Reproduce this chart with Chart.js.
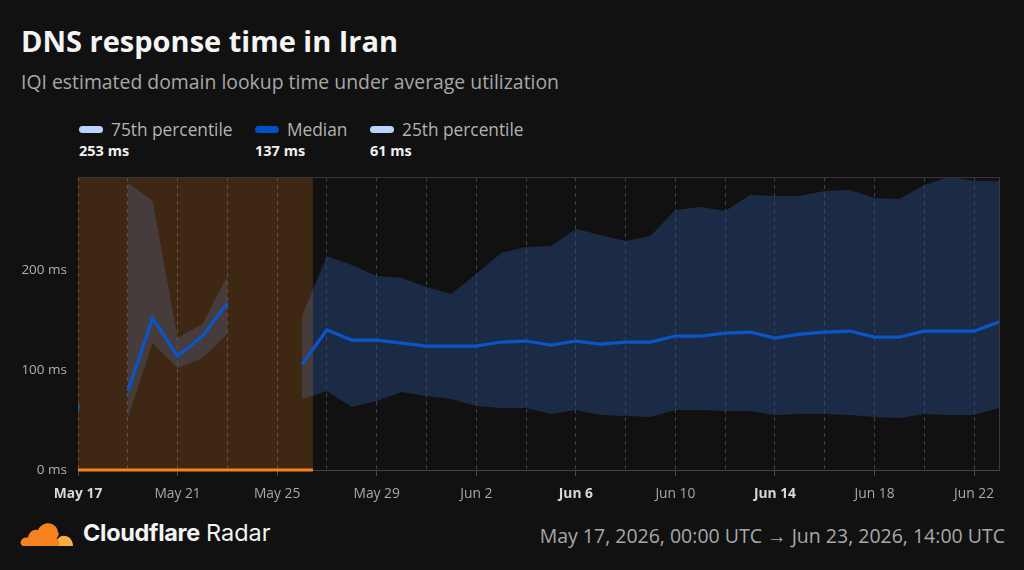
<!DOCTYPE html>
<html>
<head>
<meta charset="utf-8">
<script src="https://cdn.jsdelivr.net/npm/chart.js@4"></script>
<style>
  html, body { margin: 0; padding: 0; }
  body { width: 1024px; height: 570px; background: #111111; position: relative; overflow: hidden; font-family: "Open Sans", "Noto Sans", sans-serif; }
  .title { position: absolute; left: 21px; top: 21px; font-size: 29px; font-weight: 700; color: #f4f4f4; }
  .subtitle { position: absolute; left: 21px; top: 68px; font-size: 19.4px; color: #a8a8a8; }
  .legend-item { position: absolute; top: 118px; }
  .legend-item .row { display: flex; align-items: center; font-size: 17.3px; color: #b4b4b4; }
  .legend-item .pill { width: 24px; height: 7px; border-radius: 4px; margin-right: 8px; }
  .legend-item .val { font-size: 14.5px; font-weight: 700; color: #f0f0f0; margin-top: 0px; }
  #wrap { position: absolute; left: 0; top: 158px; width: 1024px; height: 347px; }
  .brand { position: absolute; left: 20px; top: 518px; display: flex; align-items: center; font-family: Inter, sans-serif; font-size: 23.5px; color: #f4f4f4; }
  .brand b { font-weight: 700; margin-right: 6px; letter-spacing: -0.3px; }
  .range { position: absolute; right: 19px; top: 522px; font-size: 19.5px; color: #a8a8a8; }
</style>
</head>
<body>
<div class="title">DNS response time in Iran</div>
<div class="subtitle">IQI estimated domain lookup time under average utilization</div>

<div class="legend-item" style="left:79px">
  <div class="row"><span class="pill" style="background:#b9d5ff"></span>75th percentile</div>
  <div class="val">253 ms</div>
</div>
<div class="legend-item" style="left:255px">
  <div class="row"><span class="pill" style="background:#0051c3"></span>Median</div>
  <div class="val">137 ms</div>
</div>
<div class="legend-item" style="left:370px">
  <div class="row"><span class="pill" style="background:#b9d5ff"></span>25th percentile</div>
  <div class="val">61 ms</div>
</div>

<div id="wrap"><canvas id="chart"></canvas></div>

<div class="brand">
  <svg width="54" height="28" viewBox="0 0 54 28" style="margin-right:9px">
    <path d="M4 27 C1 27 0 24 1 22 C2 19 5 18 8 18.5 C9 13 13 10 18 11 C21 4 30 2 35 7 C37 9 38 11 38 14 L39 14 C38 19 35 23 30 24 L8 24 Z" fill="#f6821f"/>
    <path d="M36 27 L36 24 C37 19 41 16 45 17 C49 17 53 21 53 27 Z" fill="#fbad41"/>
    <path d="M2 27 L39 27 C40 23 39 21 37 20 L30 20 C26 20 26 24 24 24 L4 24 Z" fill="#f6821f"/>
  </svg>
  <b>Cloudflare</b>Radar
</div>
<div class="range">May 17, 2026, 00:00 UTC → Jun 23, 2026, 14:00 UTC</div>

<script>
// DATA (one point per day, day 0 = May 17)
const days = [0,1,2,3,4,5,6,7,8,9,10,11,12,13,14,15,16,17,18,19,20,21,22,23,24,25,26,27,28,29,30,31,32,33,34,35,36,37];

const median = [63, null, 79, 152, 114, 134, 167, null, null, 106, 140, 130, 130, 127, 124, 124, 124, 128, 129, 125,
  129, 126, 128, 128, 134, 134, 137, 138, 132, 136, 138, 139, 133, 133, 139, 139, 139, 148];

const p75 = [null, null, 287, 269, 132, 146, 194, null, null, 154, 214, 205, 194, 192, 183, 176, 196, 217, 223, 224,
  241, 235, 229, 234, 260, 263, 259, 275, 274, 274, 279, 280, 272, 271, 285, 293, 289, 289];

const p25 = [null, null, 52, 127, 102, 112, 136, null, null, 71, 79, 63, 69, 78, 74, 71, 64, 62, 62, 56,
  60, 55, 54, 53, 60, 60, 59, 59, 55, 56, 56, 55, 53, 52, 56, 55, 55, 62];

// flagged period (days), shaded orange
const outageRange = [0, 9.44];

// axis
const tickLabels = ["May 17", "May 21", "May 25", "May 29", "Jun 2", "Jun 6", "Jun 10", "Jun 14", "Jun 18", "Jun 22"];
const boldTicks = ["May 17", "Jun 6", "Jun 14"];
const yTicks = [0, 100, 200];
const yMax = 293;
const xMax = 37;

// HELPERS
const pts = arr => days.map((d, i) => ({ x: d, y: arr[i] }));
const tickLabel = v => (v % 4 === 0 ? tickLabels[v / 4] || "" : "");
const isBold = ctx => !!(ctx.tick && boldTicks.includes(tickLabel(ctx.tick.value)));
const isolated = ctx => {
  const i = ctx.dataIndex;
  return median[i] != null && median[i - 1] == null && median[i + 1] == null;
};

// top + right frame of the plot
const frame = {
  id: "frame",
  afterDraw(chart) {
    const { ctx, chartArea: a } = chart;
    ctx.save();
    ctx.strokeStyle = "#3a3a3a";
    ctx.lineWidth = 1;
    ctx.beginPath();
    ctx.moveTo(a.left, a.top + 0.5);
    ctx.lineTo(a.right + 0.5, a.top + 0.5);
    ctx.lineTo(a.right + 0.5, a.bottom);
    ctx.stroke();
    ctx.restore();
  }
};

new Chart(document.getElementById("chart"), {
  type: "line",
  data: {
    datasets: [
      {
        label: "Median",
        data: pts(median),
        borderColor: "#0a55c8",
        borderWidth: 3.2,
        pointRadius: ctx => (isolated(ctx) ? 2.2 : 0),
        pointBackgroundColor: "#0a55c8",
        pointBorderWidth: 0,
        spanGaps: false,
        fill: false
      },
      {
        label: "outage",
        data: outageRange.map(d => ({ x: d, y: yMax })),
        borderWidth: 0,
        pointRadius: 0,
        fill: "start",
        backgroundColor: "rgba(246,130,31,0.2)"
      },
      {
        label: "outage-line",
        data: outageRange.map(d => ({ x: d, y: 0 })),
        borderColor: "#f6821f",
        borderWidth: 3,
        pointRadius: 0,
        clip: false,
        fill: false
      },
      {
        label: "75th percentile",
        data: pts(p75),
        borderWidth: 0,
        pointRadius: 0,
        spanGaps: false,
        fill: "+1",
        backgroundColor: "rgba(40,70,122,0.5)"
      },
      {
        label: "25th percentile",
        data: pts(p25),
        borderWidth: 0,
        pointRadius: 0,
        spanGaps: false,
        fill: false
      }
    ]
  },
  options: {
    responsive: true,
    maintainAspectRatio: false,
    animation: false,
    layout: { padding: { top: 4, right: 25, left: 0, bottom: 0 } },
    plugins: { legend: { display: false }, tooltip: { enabled: false } },
    elements: { line: { tension: 0 } },
    scales: {
      x: {
        type: "linear",
        min: 0,
        max: xMax,
        z: 1,
        afterFit: s => { s.height = 35; },
        border: { display: true, color: "#444", width: 1, dash: [4, 4] },
        grid: {
          color: "rgba(255,255,255,0.22)",
          lineWidth: 1,
          tickLength: 6,
          tickColor: ctx => (ctx.tick && ctx.tick.value % 4 === 0 ? "#4a4a4a" : "rgba(0,0,0,0)"),
          tickBorderDash: []
        },
        ticks: {
          stepSize: 2,
          includeBounds: false,
          autoSkip: false,
          maxRotation: 0,
          padding: 10,
          callback: v => tickLabel(v),
          color: ctx => (isBold(ctx) ? "#d8d8d8" : "#a8a8a8"),
          font: ctx => ({
            family: "'Open Sans', 'Noto Sans', sans-serif",
            size: 13.8,
            weight: isBold(ctx) ? "700" : "400"
          })
        }
      },
      y: {
        min: 0,
        max: yMax,
        afterFit: s => { s.width = 78; },
        border: { display: false },
        grid: { display: false, drawTicks: false },
        afterBuildTicks: s => { s.ticks = yTicks.map(v => ({ value: v })); },
        ticks: {
          padding: 11,
          color: "#b0b0b0",
          font: { family: "'Open Sans', 'Noto Sans', sans-serif", size: 13.5 },
          callback: v => v + " ms"
        }
      }
    }
  },
  plugins: [frame]
});
</script>
</body>
</html>
